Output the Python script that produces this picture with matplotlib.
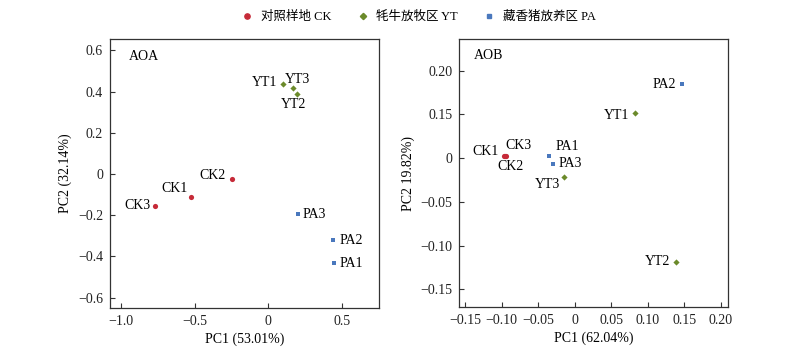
import matplotlib
matplotlib.use("Agg")
import matplotlib.pyplot as plt
from matplotlib.lines import Line2D

plt.rcParams['font.family'] = ['Liberation Serif', 'Noto Sans CJK SC']
plt.rcParams['axes.unicode_minus'] = True

groups = ['对照样地 CK', '牦牛放牧区 YT', '藏香猪放养区 PA']
colors = ['#c62a38', '#6b8a2a', '#4a78bd']
markers = ['o', 'D', 's']
msizes = [14, 10, 9]

# AOA
aoa_labels = [['CK1', 'CK2', 'CK3'], ['YT1', 'YT2', 'YT3'], ['PA1', 'PA2', 'PA3']]
aoa_x = [[-0.527, -0.249, -0.767], [0.101, 0.192, 0.165], [0.445, 0.440, 0.199]]
aoa_y = [[-0.112, -0.023, -0.153], [0.437, 0.388, 0.417], [-0.432, -0.321, -0.195]]
# label offsets (pixels) and alignment
aoa_off = [[(-16, 9, 'center'), (-6, 3, 'right'), (-5, 0, 'right')],
           [(-6, 1, 'right'), (-3, -10, 'center'), (5, 9, 'center')],
           [(6, 0, 'left'), (6, 0, 'left'), (5, 0, 'left')]]

# AOB
aob_labels = [['CK1', 'CK2', 'CK3'], ['YT1', 'YT2', 'YT3'], ['PA1', 'PA2', 'PA3']]
aob_x = [[-0.0960, -0.0950, -0.0945], [0.0827, 0.1384, -0.0149], [-0.0345, 0.1476, -0.0295]]
aob_y = [[0.0028, 0.0024, 0.0030], [0.0522, -0.1184, -0.0214], [0.0026, 0.0848, -0.0065]]
aob_off = [[(-6, 4, 'right'), (5, -10, 'center'), (13, 10, 'center')],
           [(-6, -3, 'right'), (-5, 0, 'right'), (-4, -8, 'right')],
           [(6, 9, 'left'), (-6, 0, 'right'), (5, 0, 'left')]]
aob_yticks = [0.10, 0.05, 0.0, -0.05, -0.10, -0.15]
aob_yticklabels = ['0.20', '0.15', '0', '\u22120.05', '\u22120.10', '\u22120.15']
aob_xticks = [-0.15, -0.10, -0.05, 0.0, 0.05, 0.10, 0.15, 0.20]
aob_xticklabels = ['\u22120.15', '\u22120.10', '\u22120.05', '0', '0.05', '0.10', '0.15', '0.20']
aoa_xticks = [-1.0, -0.5, 0.0, 0.5]
aoa_xticklabels = ['\u22121.0', '\u22120.5', '0', '0.5']
aoa_yticks = [0.6, 0.4, 0.2, 0.0, -0.2, -0.4, -0.6]
aoa_yticklabels = ['0.6', '0.4', '0.2', '0', '\u22120.2', '\u22120.4', '\u22120.6']

fig = plt.figure(figsize=(8, 3.52), dpi=100)
ax1 = fig.add_axes([0.1375, 0.125, 0.336, 0.764])
ax2 = fig.add_axes([0.574, 0.127, 0.336, 0.762])

def draw(ax, xs, ys, labs, offs):
    for g in range(3):
        ax.scatter(xs[g], ys[g], s=msizes[g], c=colors[g],
                   marker=markers[g], linewidths=0, zorder=3)
        for i in range(3):
            dx, dy, ha = offs[g][i]
            ax.annotate(labs[g][i], (xs[g][i], ys[g][i]), xytext=(dx * 0.72, dy * 0.72),
                        textcoords='offset points', ha=ha, va='center', fontsize=10)
    for sp in ax.spines.values():
        sp.set_color('#333333')
        sp.set_linewidth(0.9)
    ax.tick_params(direction='in', length=3.5, width=0.8, labelsize=10, colors='#333333',
                   labelcolor='#222222', pad=5)

draw(ax1, aoa_x, aoa_y, aoa_labels, aoa_off)
ax1.set_xlim(-1.075, 0.75)
ax1.set_ylim(-0.65, 0.655)
ax1.set_xticks(aoa_xticks, aoa_xticklabels)
ax1.set_yticks(aoa_yticks, aoa_yticklabels)
ax1.set_xlabel('PC1 (53.01%)', fontsize=10, labelpad=3)
ax1.set_ylabel('PC2 (32.14%)', fontsize=10, labelpad=4)
ax1.text(0.07, 0.937, 'AOA', transform=ax1.transAxes, fontsize=10, va='center')

draw(ax2, aob_x, aob_y, aob_labels, aob_off)
ax2.set_xlim(-0.158, 0.21)
ax2.set_ylim(-0.1707, 0.1363)
ax2.set_xticks(aob_xticks, aob_xticklabels)
ax2.set_yticks(aob_yticks, aob_yticklabels)
ax2.set_xlabel('PC1 (62.04%)', fontsize=10, labelpad=3)
ax2.set_ylabel('PC2 19.82%)', fontsize=10, labelpad=4)
ax2.text(0.055, 0.94, 'AOB', transform=ax2.transAxes, fontsize=10, va='center')

handles = [Line2D([], [], marker=markers[g], color=colors[g], linestyle='none',
                  markersize=[3.8, 3.2, 3.2][g]) for g in range(3)]
fig.legend(handles, groups, loc='center', bbox_to_anchor=(0.523, 0.952), ncol=3,
           frameon=False, handletextpad=0.6, columnspacing=2.0,
           handlelength=1.0, prop={'family': ['Liberation Serif', 'Noto Sans CJK SC'], 'size': 9})

fig.savefig('out.png', dpi=100)
